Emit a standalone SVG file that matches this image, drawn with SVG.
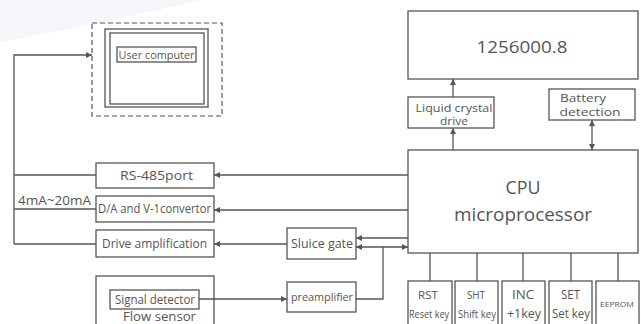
<svg xmlns="http://www.w3.org/2000/svg" width="641" height="324" viewBox="0 0 641 324">
<style>
.b{fill:#fff;stroke:#555;stroke-width:1.3}
.l{fill:none;stroke:#555;stroke-width:1.3}
text{font-family:"Open Sans","Noto Sans","DejaVu Sans",sans-serif;fill:#555;text-anchor:middle}
</style>
<defs>
<marker id="ah" viewBox="0 0 6 6" refX="6" refY="3" markerWidth="6" markerHeight="6" markerUnits="userSpaceOnUse" orient="auto-start-reverse"><path d="M0,0 L6,3 L0,6 z" fill="#555"/></marker>
</defs>
<rect width="641" height="324" fill="#fff"/>
<path d="M0,0 L200,0 Q120,20 0,42 Z" fill="#f4f6f9"/>
<g id="user-computer">
<rect x="92" y="23" width="130" height="93" fill="none" stroke="#555" stroke-width="1.2" stroke-dasharray="5,3"/>
<rect class="b" x="105" y="29" width="103" height="78"/>
<rect class="b" x="110" y="33" width="94" height="71"/>
<rect class="b" x="117" y="47" width="79" height="15"/>
<text x="156.5" y="58.5" font-size="10" textLength="76" lengthAdjust="spacingAndGlyphs">User computer</text>
</g>
<g id="display">
<rect class="b" x="408" y="11" width="230" height="68"/>
<text x="522" y="53" font-size="17" textLength="91" lengthAdjust="spacingAndGlyphs">1256000.8</text>
</g>
<g id="lcd-drive">
<rect class="b" x="408" y="97" width="86" height="31"/>
<text x="454" y="112" font-size="10" textLength="77" lengthAdjust="spacingAndGlyphs">Liquid crystal</text>
<text x="454" y="124.5" font-size="10" textLength="28" lengthAdjust="spacingAndGlyphs">drive</text>
</g>
<g id="battery">
<rect class="b" x="549" y="89" width="86" height="31"/>
<text x="583" y="102" font-size="10.5" textLength="46" lengthAdjust="spacingAndGlyphs">Battery</text>
<text x="590" y="115.5" font-size="10.5" textLength="61" lengthAdjust="spacingAndGlyphs">detection</text>
</g>
<g id="cpu">
<rect class="b" x="408" y="150" width="230" height="103"/>
<text x="523" y="194" font-size="19" textLength="35" lengthAdjust="spacingAndGlyphs">CPU</text>
<text x="523" y="221" font-size="19" textLength="138" lengthAdjust="spacingAndGlyphs">microprocessor</text>
</g>
<g id="rs485">
<rect class="b" x="96" y="163" width="118" height="25"/>
<text x="156.5" y="180" font-size="12" textLength="73" lengthAdjust="spacingAndGlyphs">RS-485port</text>
</g>
<g id="da">
<rect class="b" x="96" y="196" width="118" height="26"/>
<text x="154.5" y="213" font-size="12" textLength="113" lengthAdjust="spacingAndGlyphs">D/A and V-1convertor</text>
</g>
<g id="drive-amp">
<rect class="b" x="96" y="230" width="118" height="27"/>
<text x="154.5" y="247.5" font-size="12" textLength="105" lengthAdjust="spacingAndGlyphs">Drive amplification</text>
</g>
<g id="flow-sensor">
<rect class="b" x="96" y="276" width="118" height="60"/>
<rect class="b" x="110" y="290" width="89" height="19"/>
<text x="155" y="303.5" font-size="12" textLength="80" lengthAdjust="spacingAndGlyphs">Signal detector</text>
<text x="159.5" y="320.5" font-size="12" textLength="73" lengthAdjust="spacingAndGlyphs">Flow sensor</text>
</g>
<g id="sluice-gate">
<rect class="b" x="287" y="228" width="69" height="31"/>
<text x="322" y="248" font-size="12" textLength="62" lengthAdjust="spacingAndGlyphs">Sluice gate</text>
</g>
<g id="preamplifier">
<rect class="b" x="287" y="282" width="69" height="30"/>
<text x="322" y="301" font-size="11" textLength="62" lengthAdjust="spacingAndGlyphs">preamplifier</text>
</g>
<g id="rst">
<rect class="b" x="408" y="281" width="44" height="50"/>
<text x="428" y="299" font-size="11" textLength="20" lengthAdjust="spacingAndGlyphs">RST</text>
<text x="429" y="318" font-size="11" textLength="40" lengthAdjust="spacingAndGlyphs">Reset key</text>
</g>
<g id="sht">
<rect class="b" x="455" y="281" width="43" height="50"/>
<text x="476" y="299" font-size="11" textLength="18" lengthAdjust="spacingAndGlyphs">SHT</text>
<text x="477" y="318" font-size="11" textLength="38" lengthAdjust="spacingAndGlyphs">Shift key</text>
</g>
<g id="inc">
<rect class="b" x="502" y="281" width="43" height="50"/>
<text x="523" y="299" font-size="12" textLength="22" lengthAdjust="spacingAndGlyphs">INC</text>
<text x="524" y="318" font-size="12" textLength="34" lengthAdjust="spacingAndGlyphs">+1key</text>
</g>
<g id="set">
<rect class="b" x="549" y="281" width="43" height="50"/>
<text x="570.5" y="299" font-size="12" textLength="19" lengthAdjust="spacingAndGlyphs">SET</text>
<text x="571" y="318" font-size="12" textLength="38" lengthAdjust="spacingAndGlyphs">Set key</text>
</g>
<g id="eeprom">
<rect class="b" x="596" y="281" width="43" height="50"/>
<text x="617" y="307" font-size="8" textLength="34" lengthAdjust="spacingAndGlyphs">EEPROM</text>
</g>
<g id="connectors">
<path class="l" d="M453,97 V79" marker-end="url(#ah)"/>
<path class="l" d="M453,150 V128" marker-end="url(#ah)"/>
<path class="l" d="M592,120 V150" marker-start="url(#ah)" marker-end="url(#ah)"/>
<path class="l" d="M14,244 V55 H92" marker-end="url(#ah)"/>
<path class="l" d="M14,175 H96"/>
<path class="l" d="M14,209 H96"/>
<path class="l" d="M14,244 H96"/>
<path class="l" d="M408,175 H214" marker-end="url(#ah)"/>
<path class="l" d="M408,210 H214" marker-end="url(#ah)"/>
<path class="l" d="M287,244 H214" marker-end="url(#ah)"/>
<path class="l" d="M408,238 H356" marker-end="url(#ah)"/>
<path class="l" d="M356,247 H408" marker-start="url(#ah)" marker-end="url(#ah)"/>
<path class="l" d="M356,299 H383 V247"/>
<path class="l" d="M199,299 H287" marker-end="url(#ah)"/>
<path class="l" d="M430,253 V281 M477,253 V281 M523,253 V281 M571,253 V281 M618,253 V281"/>
</g>
<text x="54.5" y="205" font-size="12" textLength="73" lengthAdjust="spacingAndGlyphs">4mA~20mA</text>
</svg>
